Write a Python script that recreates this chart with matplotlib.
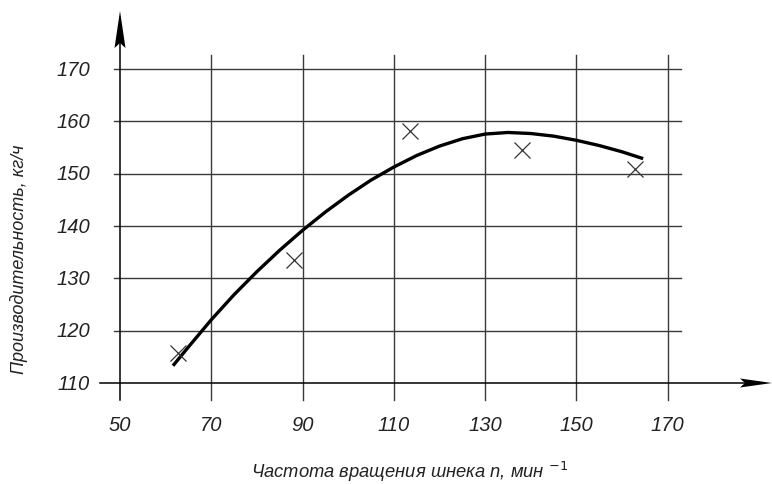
import matplotlib
matplotlib.use("Agg")
import matplotlib.pyplot as plt
from matplotlib.patches import Polygon

plt.rcParams['font.family'] = ['Liberation Sans', 'DejaVu Sans']

# data
x_ticks = [50, 70, 90, 110, 130, 150, 170]
y_ticks = [110, 120, 130, 140, 150, 160, 170]

speed = [62.8, 88.1, 113.5, 138.1, 162.8]
output = [115.7, 133.5, 158.2, 154.6, 151.0]

curve_x = [61.6, 65, 70, 75, 80, 85, 90, 95, 100, 105, 110, 115, 120,
           125, 130, 135, 140, 145, 150, 155, 160, 164.6]
curve_y = [113.3, 116.9, 122.1, 126.9, 131.3, 135.4, 139.2, 142.7, 145.9,
           148.8, 151.3, 153.5, 155.3, 156.7, 157.6, 157.9, 157.7, 157.2,
           156.4, 155.4, 154.2, 152.9]

fig = plt.figure(figsize=(7.72, 4.85), dpi=100)
ax = fig.add_axes([0, 0, 1, 1])
X0, X1, Y0, Y1 = 23.71, 192.83, 90.69, 183.42
ax.set_xlim(X0, X1)
ax.set_ylim(Y0, Y1)
ax.axis("off")

# pixel -> data helpers (pixels from top-left)
def px(u):
    return X0 + u / 772 * (X1 - X0)

def py(v):
    return Y1 - v / 485 * (Y1 - Y0)

gcol = "#3a3a3a"

# grid
for y in y_ticks[1:]:
    ax.plot([px(114), px(681)], [y, y], color=gcol, lw=1.0)
for x in x_ticks[1:]:
    ax.plot([x, x], [py(401), py(56)], color=gcol, lw=1.0)

# axes
ax.plot([50, 50], [py(401), py(44)], color="black", lw=1.1)
ax.plot([px(100), px(748)], [110, 110], color="black", lw=1.1)

# arrow heads
ax.add_patch(Polygon([(px(120), py(12)), (px(114.5), py(49)),
                      (px(120), py(44)), (px(125.5), py(49))],
                     closed=True, color="black", lw=0))
ax.add_patch(Polygon([(px(772), 110), (px(740), py(379.5)),
                      (px(745), 110), (px(740), py(388.5))],
                     closed=True, color="black", lw=0))

# tick labels
for y in y_ticks:
    ax.text(px(90), y, str(y), ha="right", va="center", fontsize=14.5,
            style="italic", color="#222")
for x in x_ticks:
    ax.text(x, py(426), str(x), ha="center", va="center", fontsize=14.5,
            style="italic", color="#222")

# curve and points
ax.plot(curve_x, curve_y, color="black", lw=2.4, solid_capstyle="butt")
ax.plot(speed, output, ls="none", marker="x", ms=11, mew=0.9, color="#333")

# axis titles
ax.text(px(410), py(472), "Частота вращения шнека n, мин $^{\\mathit{-1}}$",
        ha="center", va="center", fontsize=13.2, style="italic", color="#222")
ax.text(px(19), py(259), "Производительность, кг/ч", ha="center",
        va="center", rotation=90, fontsize=13, style="italic", color="#222")

fig.savefig("out.png", dpi=100)
